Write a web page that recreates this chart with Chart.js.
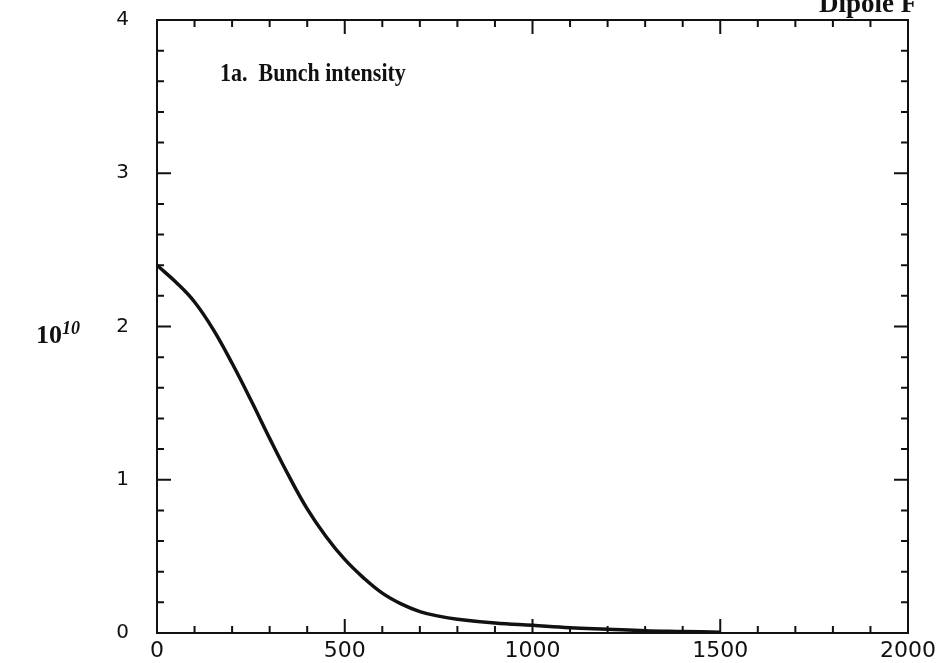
<!DOCTYPE html>
<html>
<head>
<meta charset="utf-8">
<script src="https://cdn.jsdelivr.net/npm/chart.js@4.4.0/dist/chart.umd.min.js"></script>
<style>
  html, body { margin: 0; padding: 0; background: #fff; }
  #wrap { position: relative; width: 939px; height: 663px; overflow: hidden; }
  #myChart { position: absolute; left: 0; top: 0; display: block; }
  .lbl { position: absolute; font-family: "Liberation Serif", "DejaVu Serif", serif; font-weight: bold; color: #111; white-space: nowrap; }
</style>
</head>
<body>
<div id="wrap">
  <canvas id="myChart" width="939" height="663"></canvas>
  <div class="lbl" style="left:220px; top:58px; font-size:22px; transform:scaleY(1.15); transform-origin:left top;">1a.&nbsp; Bunch intensity</div>
  <div class="lbl" style="left:819px; top:-12px; font-size:27px;">Dipole F</div>
  <div class="lbl" style="left:36px; top:318px; font-size:26px;">10<sup style="font-style:italic; font-size:18px; vertical-align:9px;">10</sup></div>
</div>
<script>
// turns (x) and bunch intensity (10^10)
var turns = [0, 50, 100, 150, 200, 250, 300, 350, 400, 450, 500, 550, 600, 650, 700, 750, 800, 900, 1000, 1100, 1200, 1300, 1400, 1500];
var intensity = [2.40, 2.29, 2.16, 1.98, 1.76, 1.52, 1.27, 1.03, 0.81, 0.63, 0.48, 0.36, 0.26, 0.19, 0.14, 0.11, 0.09, 0.065, 0.05, 0.035, 0.025, 0.015, 0.01, 0.005];
var xTicks = [0, 500, 1000, 1500, 2000];
var yTicks = [0, 1, 2, 3, 4];

// inward ticks on all four sides plus the frame
var frameTicks = {
  id: 'frameTicks',
  afterDraw: function(chart) {
    var c = chart.ctx, a = chart.chartArea;
    var xs = chart.scales.x, ys = chart.scales.y;
    c.save();
    c.strokeStyle = '#111';
    c.lineWidth = 2;
    c.strokeRect(a.left, a.top, a.right - a.left, a.bottom - a.top);
    c.beginPath();
    for (var v = 100; v < 2000; v += 100) {
      var px = xs.getPixelForValue(v);
      var len = (v % 500 === 0) ? 14 : 7;
      c.moveTo(px, a.bottom); c.lineTo(px, a.bottom - len);
      c.moveTo(px, a.top); c.lineTo(px, a.top + len);
    }
    for (var i = 1; i < 20; i++) {
      var py = ys.getPixelForValue(i * 0.2);
      var l2 = (i % 5 === 0) ? 14 : 7;
      c.moveTo(a.left, py); c.lineTo(a.left + l2, py);
      c.moveTo(a.right, py); c.lineTo(a.right - l2, py);
    }
    c.stroke();
    c.restore();
  }
};

var ctx = document.getElementById('myChart').getContext('2d');
var myChart = new Chart(ctx, {
  type: 'line',
  data: {
    datasets: [{
      data: turns.map(function(t, i) { return {x: t, y: intensity[i]}; }),
      borderColor: '#111',
      borderWidth: 3.5,
      pointRadius: 0,
      fill: false,
      tension: 0.4
    }]
  },
  options: {
    responsive: false,
    animation: false,
    layout: { padding: { top: 20, right: 31, left: 0, bottom: 0 } },
    plugins: {
      legend: { display: false },
      tooltip: { enabled: false }
    },
    scales: {
      x: {
        type: 'linear',
        min: 0, max: 2000,
        afterBuildTicks: function(s) { s.ticks = xTicks.map(function(v) { return {value: v}; }); },
        afterFit: function(s) { s.height = 30; s.paddingLeft = 0; s.paddingRight = 0; },
        grid: { display: false, drawTicks: false },
        border: { display: false },
        ticks: {
          padding: 5, color: '#111', font: { family: 'DejaVu Sans', size: 22 }, maxRotation: 0,
          callback: function(v) { return String(v); }
        }
      },
      y: {
        min: 0, max: 4,
        afterBuildTicks: function(s) { s.ticks = yTicks.map(function(v) { return {value: v}; }); },
        afterFit: function(s) { s.width = 157; s.paddingTop = 0; s.paddingBottom = 0; },
        grid: { display: false, drawTicks: false },
        border: { display: false },
        ticks: { padding: 28, color: '#111', font: { family: 'DejaVu Sans', size: 20 } }
      }
    }
  },
  plugins: [frameTicks]
});
</script>
</body>
</html>
